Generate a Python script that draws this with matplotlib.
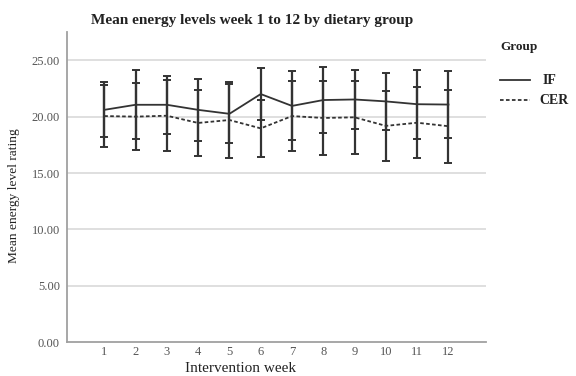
import matplotlib.pyplot as plt

weeks = list(range(1, 13))

if_mean = [20.6, 21.05, 21.05, 20.6, 20.25, 22.0, 20.95, 21.47, 21.52, 21.35, 21.1, 21.07]
if_err = [2.44, 3.05, 2.55, 2.72, 2.6, 2.34, 3.05, 2.94, 2.64, 2.54, 3.07, 2.95]

cer_mean = [20.05, 20.0, 20.08, 19.44, 19.7, 18.96, 20.05, 19.88, 19.94, 19.18, 19.46, 19.15]
cer_err = [2.75, 3.0, 3.15, 2.94, 3.39, 2.53, 3.11, 3.29, 3.24, 3.13, 3.17, 3.22]

y_ticks = [0, 5, 10, 15, 20, 25]

serif = ['Liberation Serif', 'DejaVu Serif']
plt.rcParams['font.family'] = serif

fig = plt.figure(figsize=(5.76, 3.76), dpi=100)
ax = fig.add_axes([0.1158, 0.0896, 0.728, 0.8253])

for y in y_ticks[1:]:
    ax.axhline(y, color='#d9d9d9', lw=1.2, zorder=0)

ax.errorbar(weeks, if_mean, yerr=if_err, color='#333333', lw=1.3,
            elinewidth=1.6, capsize=2.6, capthick=1.4, zorder=3)
ax.errorbar(weeks, cer_mean, yerr=cer_err, color='#333333', lw=1.3,
            linestyle=(0, (2, 1.3)), elinewidth=1.6, capsize=2.6,
            capthick=1.4, zorder=3)

ax.set_xlim(-0.2, 13.2)
ax.set_ylim(0, 27.5)
ax.set_xticks(weeks)
ax.set_xticklabels([str(w) for w in weeks])
ax.set_yticks(y_ticks)
ax.set_yticklabels([f"{v:.2f}" for v in y_ticks])
ax.tick_params(length=0, labelsize=9, labelcolor='#555555')
ax.tick_params(axis='y', pad=5)
ax.tick_params(axis='x', pad=3)

for side in ['top', 'right']:
    ax.spines[side].set_visible(False)
for side in ['left', 'bottom']:
    ax.spines[side].set_color('#a0a0a0')
    ax.spines[side].set_linewidth(1.3)

# axis titles placed by hand, as in the original they are off-centre
fig.text(0.417, 0.021, 'Intervention week', ha='center', va='center',
         fontsize=11, color='#222222')
fig.text(0.024, 0.479, 'Mean energy level rating', ha='center', va='center',
         rotation=90, fontsize=9.6, color='#222222')

fig.text(0.438, 0.946, 'Mean energy levels week 1 to 12 by dietary group',
         ha='center', va='center', fontsize=11, fontweight='bold', color='#222222')

# legend drawn by hand at the right
fig.text(0.868, 0.875, 'Group', fontsize=9.5, fontweight='bold', color='#222222',
         va='center')
fig.lines.append(plt.Line2D([0.868, 0.92], [0.787, 0.787], transform=fig.transFigure,
                            color='#333333', lw=1.3))
fig.lines.append(plt.Line2D([0.868, 0.92], [0.733, 0.733], transform=fig.transFigure,
                            color='#333333', lw=1.3, linestyle=(0, (2, 1.3))))
fig.text(0.942, 0.787, 'IF', fontsize=10, fontweight='bold', color='#222222', va='center')
fig.text(0.937, 0.733, 'CER', fontsize=10, fontweight='bold', color='#222222', va='center')

fig.savefig('out.png', dpi=100)
